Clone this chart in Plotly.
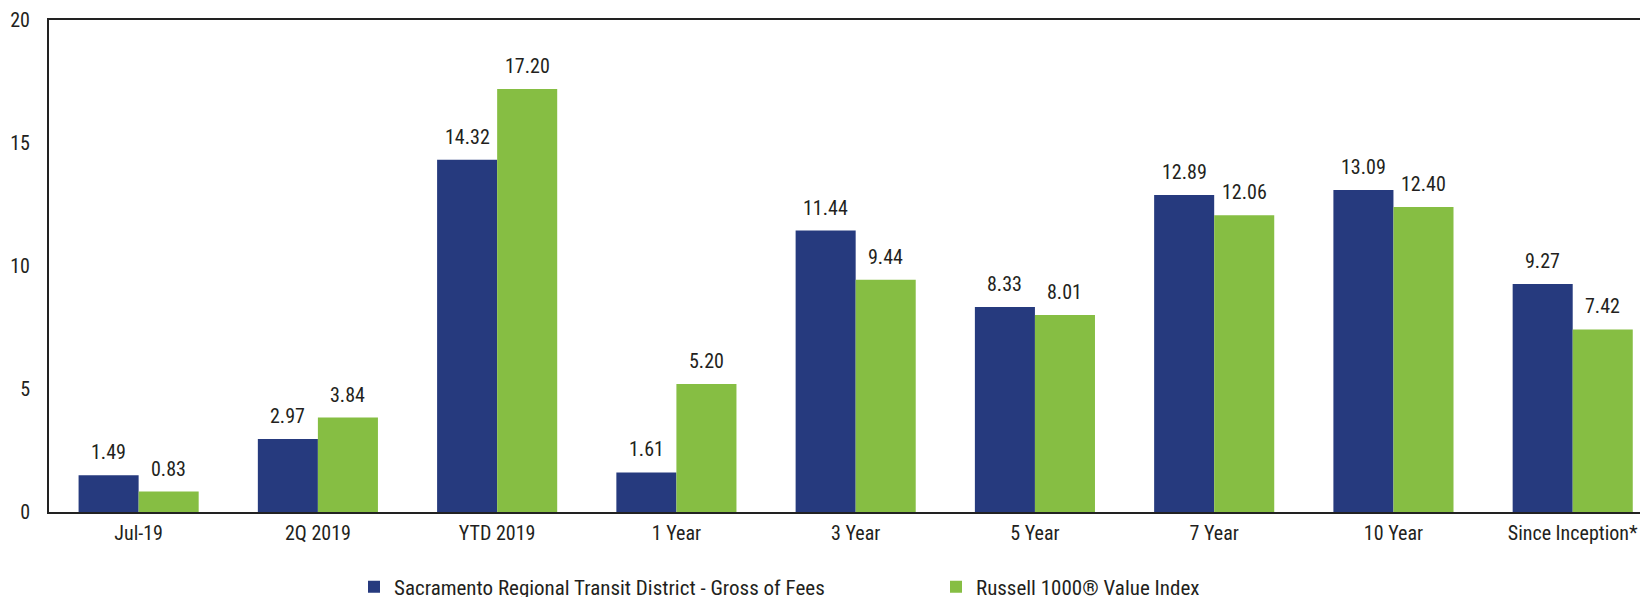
import plotly.graph_objects as go

# Data
categories = ["Jul-19", "2Q 2019", "YTD 2019", "1 Year", "3 Year",
              "5 Year", "7 Year", "10 Year", "Since Inception*"]
portfolio = [1.49, 2.97, 14.32, 1.61, 11.44, 8.33, 12.89, 13.09, 9.27]
benchmark = [0.83, 3.84, 17.20, 5.20, 9.44, 8.01, 12.06, 12.40, 7.42]
series_names = ["Sacramento Regional Transit District - Gross of Fees",
                "Russell 1000® Value Index"]
y_ticks = [0, 5, 10, 15, 20]

BLUE = "#263A7E"
GREEN = "#86BE43"
TXT = "#231F20"
FONT = "Roboto Condensed, Liberation Sans Narrow, sans-serif"

# page body has an 8px margin, so the figure is 8px smaller than the window
W, H = 1640, 589

fig = go.Figure()
fig.add_trace(go.Bar(x=categories, y=portfolio, name=series_names[0],
                     marker=dict(color=BLUE, line=dict(width=0)),
                     legend="legend"))
fig.add_trace(go.Bar(x=categories, y=benchmark, name=series_names[1],
                     marker=dict(color=GREEN, line=dict(width=0)),
                     legend="legend2"))

# value labels above bars
for vals, shift in ((portfolio, -30), (benchmark, 30)):
    for c, v in zip(categories, vals):
        fig.add_annotation(x=c, y=v, text=f"{v:.2f}", showarrow=False,
                           xshift=shift, yshift=9, yanchor="bottom",
                           font=dict(size=20, color=TXT, family=FONT))

leg = dict(orientation="h", xref="container", yref="container",
           xanchor="left", yanchor="middle", y=1 - 579 / H,
           font=dict(size=21, color=TXT, family=FONT), bgcolor="rgba(0,0,0,0)")

fig.update_layout(
    width=W, height=H,
    margin=dict(l=41, r=0, t=12, b=85, autoexpand=False),
    paper_bgcolor="white", plot_bgcolor="white",
    barmode="group", bargap=0.33, bargroupgap=0,
    font=dict(family=FONT, size=20, color=TXT),
    showlegend=True,
    legend=dict(leg, x=346 / W),
    legend2=dict(leg, x=928 / W),
)
fig.update_xaxes(range=[-0.5, 8.42], showline=True, linecolor="#222222",
                 linewidth=2, mirror=True, ticks="", showgrid=False,
                 automargin=False, ticklabelstandoff=2, tickfont=dict(size=20))
fig.update_yaxes(range=[0, 20], tickvals=y_ticks, showline=True,
                 linecolor="#222222", linewidth=2, ticks="", showgrid=False,
                 automargin=False, zeroline=False, ticklabelstandoff=13,
                 tickfont=dict(size=20))

fig.write_html("out.html")
